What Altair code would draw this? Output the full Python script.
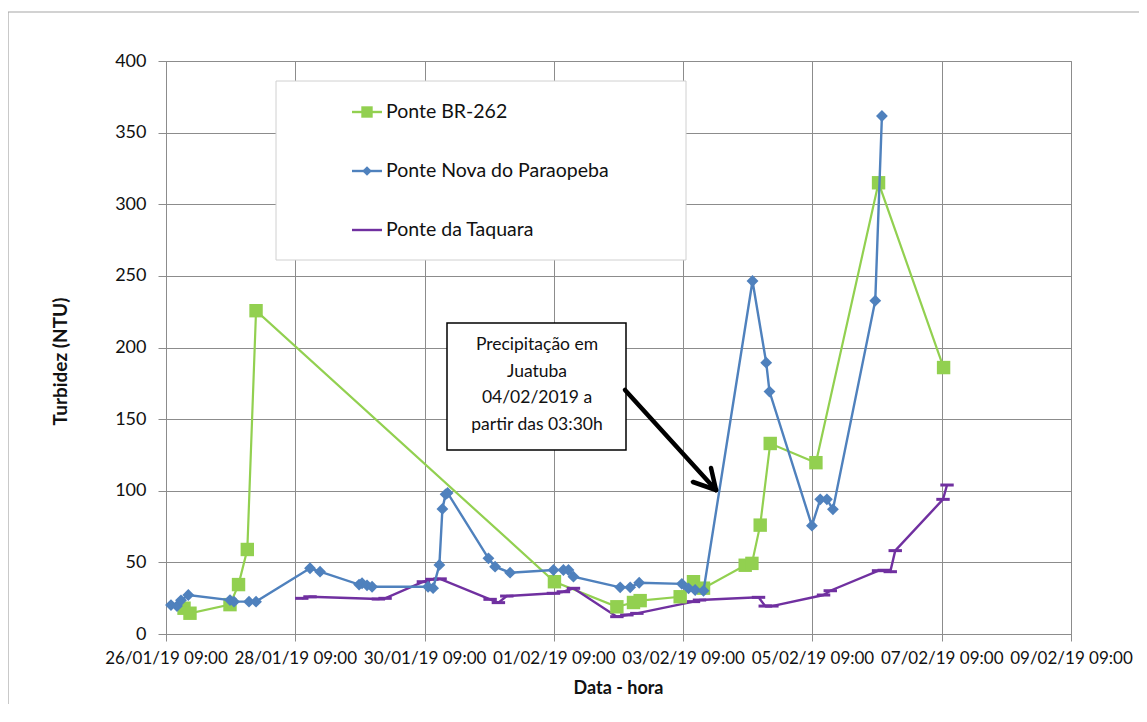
import altair as alt
import pandas as pd

BASE = "2019-01-26 09:00"

# Ponte BR-262 (days after 26/01/19 09:00, turbidity NTU)
br262_days = [0.279, 0.371, 0.990, 1.122, 1.258, 1.393, 6.009, 6.975, 7.232, 7.335,
              7.954, 8.160, 8.315, 8.960, 9.064, 9.192, 9.347, 10.054, 11.023, 12.029]
br262_ntu = [18, 14.5, 20.5, 34.5, 59, 225.7, 36.5, 19, 22, 23.3,
             26, 36.5, 32, 48, 49.3, 76, 133, 119.6, 315, 186]

# Ponte Nova do Paraopeba
nova_days = [0.077, 0.170, 0.232, 0.345, 0.990, 1.052, 1.284, 1.393, 2.228, 2.383,
             2.987, 3.033, 3.110, 3.188, 4.054, 4.132, 4.229, 4.276, 4.325, 4.356,
             4.988, 5.091, 5.323, 5.994, 6.148, 6.226, 6.303, 7.026, 7.181, 7.320,
             7.980, 8.083, 8.186, 8.315, 9.073, 9.285, 9.336, 9.992, 10.121, 10.224,
             10.317, 10.972, 11.075]
nova_ntu = [20.2, 19.5, 23.5, 27.2, 23.7, 22.6, 22.6, 22.6, 45.9, 43.5,
            34.5, 35.4, 34.0, 33.0, 33.0, 32.0, 48.2, 87.3, 97.5, 98.5,
            52.8, 47.0, 42.8, 44.7, 44.7, 44.7, 40.0, 32.6, 32.6, 35.8,
            35.0, 31.9, 30.7, 30.2, 246.4, 189.4, 169.2, 75.6, 94, 94,
            87, 232.7, 361.6]

# Ponte da Taquara
taquara_days = [2.100, 2.228, 3.285, 3.389, 3.982, 4.112, 4.240, 5.014, 5.142, 5.272,
                5.994, 6.148, 6.303, 6.975, 7.129, 7.284, 8.160, 8.253, 9.166, 9.270,
                9.373, 10.172, 10.276, 11.023, 11.111, 11.204, 11.281, 12.020, 12.082]
taquara_ntu = [24.9, 26.0, 24.4, 24.9, 36.5, 38.2, 38.5, 24.2, 21.9, 26.5,
               28.4, 29.5, 31.9, 12.1, 13.3, 14.4, 22.6, 23.7, 25.6, 19.5,
               19.5, 27.2, 30.2, 44.2, 44.5, 43.5, 58.2, 94, 104]

series_names = ["Ponte BR-262", "Ponte Nova do Paraopeba", "Ponte da Taquara"]
annotation_lines = ["Precipitação em", "Juatuba", "04/02/2019 a", "partir das 03:30h"]
tick_days = [26, 28, 30, 1, 3, 5, 7, 9]
tick_months = [1, 1, 1, 2, 2, 2, 2, 2]

GREEN = "#92D050"
BLUE = "#4F81BD"
PURPLE = "#7030A0"
GRID = "#8c8c8c"
FONT = "Lato"


def frame(days, vals, name):
    t = pd.Timestamp(BASE) + pd.to_timedelta(days, unit="D")
    return pd.DataFrame({"t": t, "v": vals, "s": name})


df_g = frame(br262_days, br262_ntu, series_names[0])
df_b = frame(nova_days, nova_ntu, series_names[1])
df_p = frame(taquara_days, taquara_ntu, series_names[2])

tick_vals = [alt.DateTime(year=2019, month=m, date=d, hours=9) for d, m in zip(tick_days, tick_months)]

x_enc = alt.X(
    "t:T",
    scale=alt.Scale(domain=[tick_vals[0], tick_vals[-1]], nice=False),
    axis=alt.Axis(
        values=tick_vals, format="%d/%m/%y %H:%M", title="Data - hora",
        labelFontSize=17, labelPadding=9, tickSize=7, labelFlush=False,
        labelOverlap=False, titleFontSize=18, titleFontWeight="bold",
        titleX=452, titleY=54, titleBaseline="middle",
    ),
)
y_enc = alt.Y(
    "v:Q",
    scale=alt.Scale(domain=[0, 400], nice=False),
    axis=alt.Axis(
        values=list(range(0, 401, 50)), title="Turbidez (NTU)",
        labelFontSize=18, labelPadding=12, tickSize=8,
        titleFontSize=19, titleFontWeight="bold",
        titleX=-106, titleY=300, titleAlign="center", titleBaseline="middle", titleAngle=-90,
    ),
)

one = pd.DataFrame({"k": [0]})

# outer chart frame (outline only)
outer = alt.Chart(one).mark_rect(fill="white", fillOpacity=0, stroke="#a6a6a6", strokeWidth=1.2).encode(
    x=alt.value(-158), x2=alt.value(1100), y=alt.value(-49), y2=alt.value(800)
)

g_line = alt.Chart(df_g).mark_line(color=GREEN, strokeWidth=2.2).encode(x=x_enc, y=y_enc, order="t:T")
g_pts = alt.Chart(df_g).mark_point(shape="square", filled=True, size=180, color=GREEN, opacity=1).encode(x="t:T", y="v:Q")
b_line = alt.Chart(df_b).mark_line(color=BLUE, strokeWidth=2.4).encode(x="t:T", y="v:Q", order="t:T")
b_pts = alt.Chart(df_b).mark_point(shape="diamond", filled=True, size=140, color=BLUE, opacity=1).encode(x="t:T", y="v:Q")
p_line = alt.Chart(df_p).mark_line(color=PURPLE, strokeWidth=2.4).encode(x="t:T", y="v:Q", order="t:T")
p_pts = alt.Chart(df_p).mark_point(shape="stroke", filled=False, size=180, color=PURPLE, strokeWidth=3, opacity=1).encode(x="t:T", y="v:Q")

# legend box
leg_box = alt.Chart(one).mark_rect(fill="white", stroke="#d0d0d0", strokeWidth=1).encode(
    x=alt.value(110), x2=alt.value(520), y=alt.value(20), y2=alt.value(199)
)
leg_y = [51, 110, 169]
leg_colors = [GREEN, BLUE, PURPLE]
leg_layers = []
for i in range(3):
    leg_layers.append(alt.Chart(one).mark_rule(color=leg_colors[i], strokeWidth=2.4).encode(
        x=alt.value(186), x2=alt.value(216), y=alt.value(leg_y[i])))
    leg_layers.append(alt.Chart(one).mark_text(
        text=series_names[i], align="left", baseline="middle", fontSize=19.5, font=FONT, color="#111"
    ).encode(x=alt.value(220), y=alt.value(leg_y[i])))
leg_layers.append(alt.Chart(one).mark_point(shape="square", filled=True, size=130, color=GREEN, opacity=1).encode(
    x=alt.value(201), y=alt.value(leg_y[0])))
leg_layers.append(alt.Chart(one).mark_point(shape="diamond", filled=True, size=90, color=BLUE, opacity=1).encode(
    x=alt.value(201), y=alt.value(leg_y[1])))

# annotation box
ann_box = alt.Chart(one).mark_rect(fill="white", stroke="black", strokeWidth=1.5).encode(
    x=alt.value(281), x2=alt.value(460), y=alt.value(262), y2=alt.value(389)
)
ann_text = [
    alt.Chart(one).mark_text(text=line, align="center", baseline="middle", fontSize=17.5, font=FONT, color="#111").encode(
        x=alt.value(371), y=alt.value(284 + 26.5 * i))
    for i, line in enumerate(annotation_lines)
]
arrow = [
    alt.Chart(one).mark_rule(color="black", strokeWidth=4.5, strokeCap="round").encode(
        x=alt.value(459), y=alt.value(329), x2=alt.value(550), y2=alt.value(429)),
    alt.Chart(one).mark_rule(color="black", strokeWidth=4.5, strokeCap="round").encode(
        x=alt.value(527), y=alt.value(421), x2=alt.value(550), y2=alt.value(429)),
    alt.Chart(one).mark_rule(color="black", strokeWidth=4.5, strokeCap="round").encode(
        x=alt.value(545), y=alt.value(407), x2=alt.value(550), y2=alt.value(429)),
]

chart = alt.layer(
    outer, g_line, p_line, p_pts, g_pts, b_line, b_pts, leg_box, *leg_layers, ann_box, *ann_text, *arrow
).properties(
    width=905, height=573,
    autosize="none",
    padding={"left": 158, "top": 53, "right": 68, "bottom": 70},
).configure_axis(
    gridColor=GRID, gridWidth=1, domainColor=GRID, domainWidth=1, tickColor=GRID, tickWidth=1,
    labelFont=FONT, titleFont=FONT, labelColor="#111", titleColor="#111",
).configure_view(
    stroke=GRID, strokeWidth=1
)

chart.save("out.html", embed_options={"renderer": "svg", "actions": False})
